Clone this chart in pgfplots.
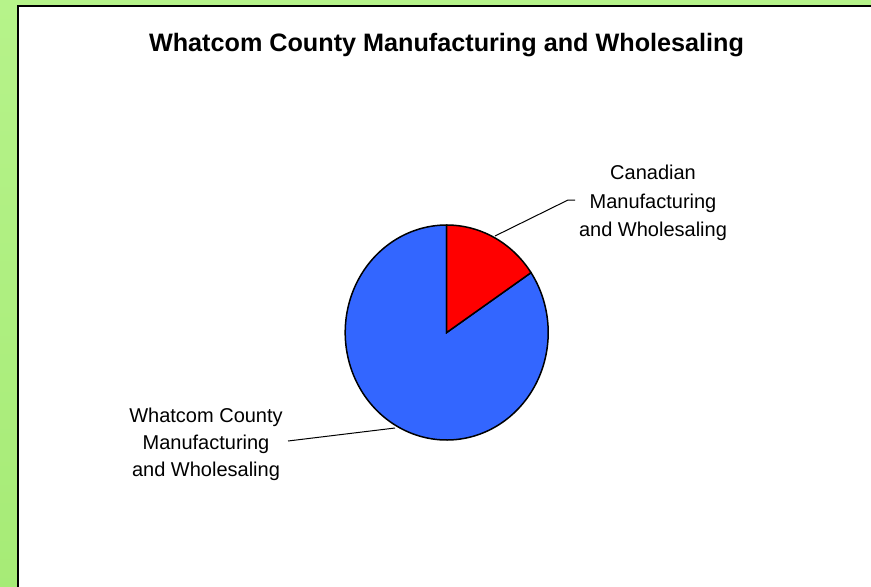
\documentclass[border=0pt]{standalone}
\usepackage{pgfplots}
\pgfplotsset{compat=1.18}
\usepackage{fontspec}
\setmainfont{Liberation Sans}
\definecolor{pieblue}{RGB}{51,102,255}
\definecolor{piered}{RGB}{255,0,0}
\definecolor{gtop}{RGB}{182,243,138}
\definecolor{gbot}{RGB}{166,235,118}
\def\canada{15.6}
\def\whatcom{84.4}
\begin{document}
\begin{tikzpicture}
\useasboundingbox (0,0) rectangle (435.5pt,293pt);
\pgfmathsetmacro{\angR}{90-360*\canada/(\canada+\whatcom)}
\fill[top color=gtop,bottom color=gbot] (0,-5pt) rectangle (440pt,293pt);
\fill[white] (9pt,-5pt) rectangle (440pt,290pt);
\draw[black, line width=0.9pt] (9pt,-5pt) -- (9pt,290pt) -- (440pt,290pt);
\begin{axis}[scale only axis, width=435.5pt, height=293pt,
  xmin=0, xmax=871, ymin=0, ymax=586, hide axis, clip=false]
\addplot[fill=pieblue, draw=black, line width=0.75pt, domain=-270:\angR, samples=220]
  ({446.7+101.5*cos(x)},{253.5+107.5*sin(x)}) -- (axis cs:446.7,253.5) -- cycle;
\addplot[fill=piered, draw=black, line width=0.75pt, domain=\angR:90, samples=60]
  ({446.7+101.5*cos(x)},{253.5+107.5*sin(x)}) -- (axis cs:446.7,253.5) -- cycle;
\draw[black, line width=0.5pt] (axis cs:495,350) -- (axis cs:568,386) -- (axis cs:575,386);
\draw[black, line width=0.5pt] (axis cs:395,158) -- (axis cs:288,145);
\node[anchor=base, align=center, font=\fontsize{10}{14.35}\selectfont]
  at (axis cs:653,349.3) {Canadian\\Manufacturing\\and Wholesaling};
\node[anchor=base, align=center, font=\fontsize{10}{13.6}\selectfont]
  at (axis cs:206,109.3) {Whatcom County\\Manufacturing\\and Wholesaling};
\node[anchor=base, font=\bfseries\fontsize{12.6}{15}\selectfont]
  at (axis cs:446.5,534.5) {Whatcom County Manufacturing and Wholesaling};
\end{axis}
\end{tikzpicture}
\end{document}
